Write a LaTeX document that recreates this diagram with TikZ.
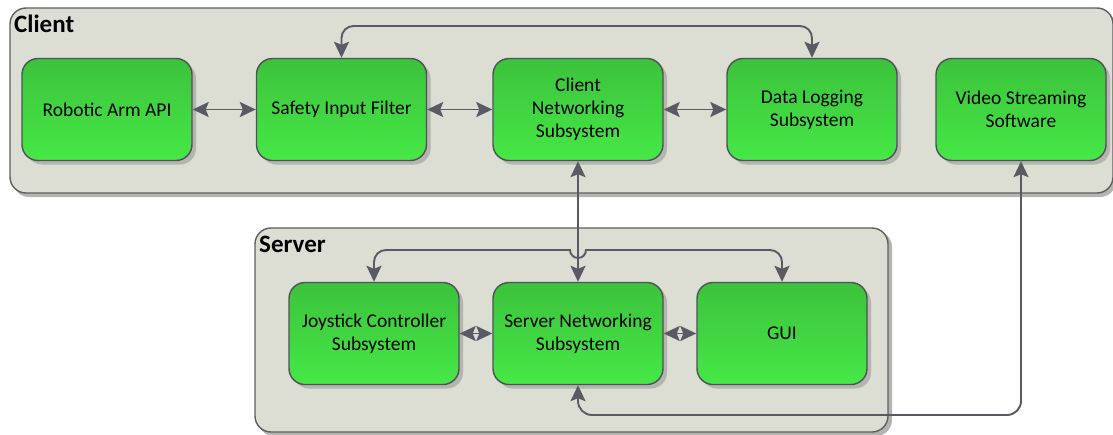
\documentclass[tikz,border=0pt]{standalone}
\usepackage{fontspec}
\setmainfont{Carlito}
\usetikzlibrary{arrows.meta,calc}
\definecolor{contfill}{HTML}{DCDED4}
\definecolor{contline}{HTML}{5E5E62}
\definecolor{greenA}{HTML}{3CC23C}
\definecolor{greenB}{HTML}{46E846}
\definecolor{boxline}{HTML}{505058}
\definecolor{arrowc}{HTML}{5A5A64}
\definecolor{shadowc}{HTML}{B4B4B0}
\tikzset{
  container/.style={draw=contline, line width=1.4pt, fill=contfill, rounded corners=16pt},
  contshadow/.style={fill=shadowc, rounded corners=16pt},
  block/.style={draw=boxline, line width=1.4pt, rounded corners=16pt, top color=greenA, bottom color=greenB,
    minimum width=170pt, minimum height=102pt, align=center, font=\fontsize{19.5}{23}\selectfont, inner sep=2pt},
  blockshadow/.style={fill=shadowc, rounded corners=16pt},
  tip/.tip={Stealth[length=16pt,width=15pt,inset=3pt]},
  conn/.style={draw=arrowc, line width=1.9pt, tip-tip},
  title/.style={font=\bfseries\fontsize{25}{28}\selectfont, anchor=north west, inner sep=0pt},
}
\begin{document}
\begin{tikzpicture}[x=1pt,y=-1pt]
\useasboundingbox (0,0) rectangle (1113,434);
% containers
\fill[contshadow] (13,11) rectangle (1116,197);
\draw[container] (10,8) rectangle (1113,193);
\fill[contshadow] (258,231) rectangle (892,436);
\draw[container] (255,228) rectangle (888,432);
\node[title] (clientlbl) at (14,15) {Client};
\node[title] (serverlbl) at (259,236) {Server};
% block shadows
\foreach \x/\y in {107/109.5,341.5/109.5,578/109.5,812/109.5,1021/109.5,374/333.5,578/333.5,782/333.5}
  \fill[blockshadow] (\x-85+4,\y-51+4) rectangle (\x+85+4,\y+51+4);
% blocks
\node[block] (arm) at (107,109.5) {Robotic Arm API};
\node[block] (safe) at (341.5,109.5) {Safety Input Filter};
\node[block] (cnet) at (578,109.5) {Client\\Networking\\Subsystem};
\node[block] (log) at (812,109.5) {Data Logging\\Subsystem};
\node[block] (video) at (1021,109.5) {Video Streaming\\Software};
\node[block] (joy) at (374,333.5) {Joystick Controller\\Subsystem};
\node[block] (snet) at (578,333.5) {Server Networking\\Subsystem};
\node[block] (gui) at (782,333.5) {GUI};
% connectors
\draw[conn] (arm) -- (safe);
\draw[conn] (safe) -- (cnet);
\draw[conn] (cnet) -- (log);
\draw[conn] (joy) -- (snet);
\draw[conn] (snet) -- (gui);
\draw[conn] (cnet.south) -- (snet.north);
\draw[conn, rounded corners=12pt] (safe.north) -- (safe.north |- 0,26) -- (log.north |- 0,26) -- (log.north);
\draw[conn] (joy.north) -- ($(joy.north |- 0,250)+(0,12)$) to[out=90,in=180] ($(joy.north |- 0,250)+(12,0)$)
  -- (570,250) arc[start angle=180,end angle=0,radius=8] -- ($(gui.north |- 0,250)+(-12,0)$)
  to[out=0,in=90] ($(gui.north |- 0,250)+(0,12)$) -- (gui.north);
\draw[conn, rounded corners=14pt] (snet.south) -- (snet.south |- 0,415) -- (video.south |- 0,415) -- (video.south);
\end{tikzpicture}
\end{document}
